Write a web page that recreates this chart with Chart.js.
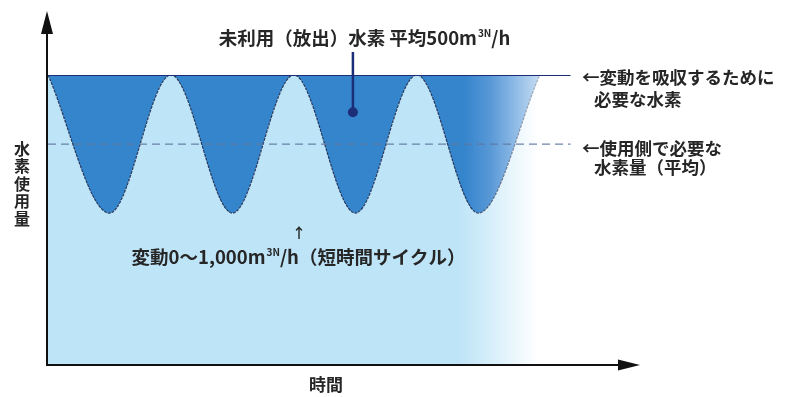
<!DOCTYPE html>
<html lang="ja">
<head>
<meta charset="utf-8">
<title>水素使用量の変動</title>
<script src="https://cdn.jsdelivr.net/npm/chart.js@4.4.1/dist/chart.umd.min.js"></script>
<style>
  html, body { margin: 0; padding: 0; background: #ffffff; }
  #wrap { width: 790px; height: 397px; }
</style>
</head>
<body>
<div id="wrap"><canvas id="chart" width="790" height="397"></canvas></div>
<script>
// Time in half-cycles: even steps are the tops of the usage swing, odd steps the bottoms.
const cycleSteps = [0, 1, 2, 3, 4, 5, 6, 7, 8];
// Hydrogen drawn by the user side, m3N/h (swing 0 - 1,000)
const usageSwing = [1000, 0, 1000, 0, 1000, 0, 1000, 0, 1000];
// Hydrogen needed to absorb the swing (upper level) and the average demand
const reserveLevel = [1000, 1000];
const averageLevel = [500, 500];
const levelSteps = [0, 8.5];
// Axis range of the drawing
const timeRange = [0, 9.63];
const usageRange = [-1100, 1000];

// Text labels
const titleText = ['未利用（放出）水素 平均500m', '3N', '/h'];
const swingText = ['変動0～1,000m', '3N', '/h（短時間サイクル）'];
const reserveNote = ['←変動を吸収するために', '必要な水素'];
const averageNote = ['←使用側で必要な', '水素量（平均）'];
const yTitle = ['水', '素', '使', '用', '量'];
const xTitle = '時間';

const FONT = '"Noto Sans CJK JP", "Noto Sans", sans-serif';
const WEIGHT = 'bold';
const LIGHT = 'rgb(190,228,247)';
const DARK = 'rgb(53,133,205)';
const NAVY = 'rgb(28,46,120)';
const INK = '#262626';

const toPts = (xs, ys) => xs.map((x, i) => ({ x: x, y: ys[i] }));

// Horizontal gradient that fades the fills out towards the end of the time axis
function fadeGradient(chart, stops) {
  const area = chart.chartArea;
  if (!area) return null;
  const g = chart.ctx.createLinearGradient(area.left, 0, area.right, 0);
  const w = area.right - area.left;
  stops.forEach(([px, c]) => g.addColorStop(Math.min(1, Math.max(0, (px - area.left) / w)), c));
  return g;
}

function lightFill(ctx) {
  const g = fadeGradient(ctx.chart, [
    [48, LIGHT], [458, LIGHT], [490, 'rgb(214,238,250)'], [538, 'rgb(255,255,255)'], [640, 'rgb(255,255,255)']
  ]);
  return g || LIGHT;
}
function darkFill(ctx) {
  const g = fadeGradient(ctx.chart, [
    [48, DARK], [465, DARK], [490, 'rgb(88,152,214)'], [512, 'rgb(135,182,228)'], [540, 'rgb(200,221,242)'], [640, 'rgb(255,255,255)']
  ]);
  return g || DARK;
}
function waveEdge(ctx) {
  const g = fadeGradient(ctx.chart, [
    [48, 'rgba(30,45,80,0.9)'], [470, 'rgba(30,45,80,0.9)'], [540, 'rgba(140,155,175,0.7)'], [640, 'rgba(140,155,175,0.7)']
  ]);
  return g || 'rgba(30,45,80,0.9)';
}

// Draws a run of text pieces where the middle piece is a small superscript
function richText(ctx, parts, x, y, size, align) {
  const supSize = Math.round(size * 0.55);
  const fonts = [`${WEIGHT} ${size}px ${FONT}`, `${WEIGHT} ${supSize}px ${FONT}`, `${WEIGHT} ${size}px ${FONT}`];
  const widths = parts.map((p, i) => { ctx.font = fonts[i]; return ctx.measureText(p).width; });
  const total = widths.reduce((a, b) => a + b, 0);
  let cx = align === 'center' ? x - total / 2 : x;
  ctx.textAlign = 'left';
  ctx.textBaseline = 'middle';
  parts.forEach((p, i) => {
    ctx.font = fonts[i];
    ctx.fillText(p, cx, i === 1 ? y - size * 0.25 : y);
    cx += widths[i] + (i === 0 ? 1 : 0);
  });
}

const decorations = {
  id: 'decorations',
  afterDraw(chart) {
    const { ctx, chartArea: a, scales } = chart;
    ctx.save();
    ctx.fillStyle = '#111';
    ctx.strokeStyle = '#111';
    ctx.lineWidth = 2;

    // axes with arrowheads
    const ox = a.left - 1, oy = a.bottom;
    ctx.beginPath();
    ctx.moveTo(ox, oy); ctx.lineTo(ox, 28);
    ctx.moveTo(ox - 1, oy); ctx.lineTo(a.right - 18, oy);
    ctx.stroke();
    ctx.beginPath();
    ctx.moveTo(ox, 11); ctx.lineTo(ox - 6, 34); ctx.lineTo(ox + 6, 34); ctx.closePath(); ctx.fill();
    ctx.beginPath();
    ctx.moveTo(a.right, oy); ctx.lineTo(a.right - 22, oy - 5.5); ctx.lineTo(a.right - 22, oy + 5.5); ctx.closePath(); ctx.fill();

    // pointer from the title into the unused-hydrogen band
    const px = scales.x.getPixelForValue(4.96);
    const py = scales.y.getPixelForValue(730);
    ctx.strokeStyle = NAVY;
    ctx.fillStyle = NAVY;
    ctx.lineWidth = 2.5;
    ctx.beginPath(); ctx.moveTo(px, 52); ctx.lineTo(px, py); ctx.stroke();
    ctx.beginPath(); ctx.arc(px, py, 5, 0, Math.PI * 2); ctx.fill();

    ctx.fillStyle = INK;
    richText(ctx, titleText, 364, 38, 18.5, 'center');
    richText(ctx, swingText, 298, 257, 18.5, 'center');

    ctx.font = `${WEIGHT} 14px ${FONT}`;
    ctx.textAlign = 'center';
    ctx.textBaseline = 'middle';
    ctx.fillText('↑', 299, 233);

    ctx.font = `${WEIGHT} 17.5px ${FONT}`;
    ctx.textAlign = 'left';
    ctx.fillText(reserveNote[0], 582, 77);
    ctx.fillText(reserveNote[1], 594, 99);
    ctx.fillText(averageNote[0], 582, 148);
    ctx.fillText(averageNote[1], 594, 167);

    ctx.font = `${WEIGHT} 16px ${FONT}`;
    ctx.textAlign = 'center';
    yTitle.forEach((c, i) => ctx.fillText(c, 22, 149 + i * 17.4));
    ctx.font = `${WEIGHT} 17px ${FONT}`;
    ctx.fillText(xTitle, 326, 385);
    ctx.restore();
  }
};

new Chart(document.getElementById('chart'), {
  type: 'line',
  data: {
    datasets: [
      {
        label: '変動を吸収するために必要な水素',
        data: toPts(levelSteps, reserveLevel),
        borderColor: NAVY, borderWidth: 2, pointRadius: 0, fill: false
      },
      {
        label: '使用側で必要な水素量（平均）',
        data: toPts(levelSteps, averageLevel),
        borderColor: 'rgba(95,120,160,0.9)', borderWidth: 1.3, borderDash: [8, 5],
        pointRadius: 0, fill: false
      },
      {
        label: '水素使用量',
        data: toPts(cycleSteps, usageSwing),
        cubicInterpolationMode: 'monotone',
        borderColor: waveEdge, borderWidth: 1.2, borderDash: [3, 1],
        pointRadius: 0,
        fill: 'start', backgroundColor: lightFill
      },
      {
        label: '未利用（放出）水素',
        data: toPts(cycleSteps, usageSwing),
        cubicInterpolationMode: 'monotone',
        borderWidth: 0, borderColor: 'rgba(0,0,0,0)', pointRadius: 0,
        fill: { value: reserveLevel[0] }, backgroundColor: darkFill
      }
    ]
  },
  options: {
    responsive: false,
    devicePixelRatio: 1,
    animation: false,
    layout: { padding: { left: 48, right: 150, top: 75, bottom: 32 } },
    scales: {
      x: { type: 'linear', min: timeRange[0], max: timeRange[1], display: false },
      y: { type: 'linear', min: usageRange[0], max: usageRange[1], display: false }
    },
    plugins: { legend: { display: false }, tooltip: { enabled: false }, title: { display: false } }
  },
  plugins: [decorations]
});
</script>
</body>
</html>
